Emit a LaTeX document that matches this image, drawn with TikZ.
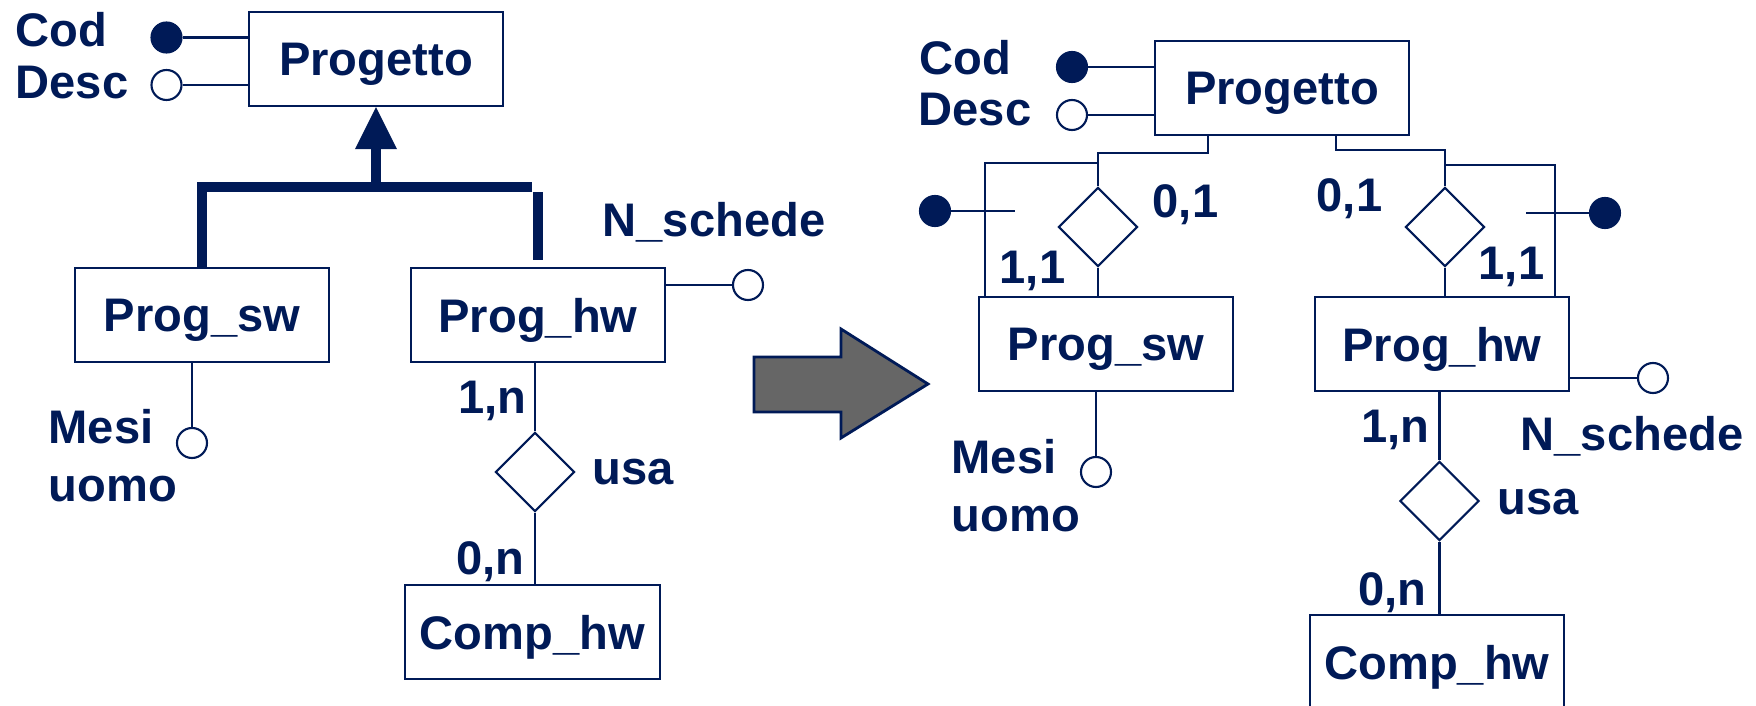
\documentclass[tikz,border=0pt]{standalone}
\usepackage{fontspec}
\setmainfont{Liberation Sans}
\usepackage{xcolor}
\usetikzlibrary{arrows.meta,shapes.geometric,calc}
\definecolor{navy}{HTML}{001A57}
\definecolor{arrowgray}{HTML}{666666}
\newcommand{\erfont}{\fontsize{13.4pt}{16pt}\selectfont\bfseries}

\begin{document}
\begin{tikzpicture}[x=0.01cm, y=-0.01cm,
  entity/.style={rectangle, draw=navy, line width=0.6pt, minimum width=2.54cm,
                 minimum height=0.94cm, inner sep=0pt, text depth=0pt,
                 font=\erfont, text=navy},
  rel/.style={diamond, draw=navy, line width=0.6pt, minimum width=0.79cm,
              minimum height=0.79cm, inner sep=0pt},
  keyattr/.style={circle, draw=navy, fill=navy, line width=0.6pt,
                  minimum size=0.3cm, inner sep=0pt},
  attr/.style={circle, draw=navy, fill=white, line width=0.6pt,
               minimum size=0.3cm, inner sep=0pt},
  lbl/.style={font=\erfont, text=navy, inner sep=0pt},
  ln/.style={draw=navy, line width=0.6pt},
  isa/.style={draw=navy, line width=0.105cm},
  isatip/.style={-{Triangle[length=0.42cm, width=0.42cm, line width=0pt]}}
]
\useasboundingbox (0,0) rectangle (1756,706);

% schema con generalizzazione
\node[entity] (PL) at (376,59) {Progetto};
\node[entity] (SWL) at (202,315) {Prog\_sw};
\node[entity] (HWL) at (538,315) {Prog\_hw};
\node[entity] (CHL) at (532.5,632) {Comp\_hw};
\node[rel] (usaL) at (535,472) {};

\node[keyattr] (codL) at (166.5,37.5) {};
\node[attr] (descL) at (166.5,85) {};
\node[attr] (mesiL) at (192,443) {};
\node[attr] (nschL) at (748,285) {};

\draw[ln] (codL.east) -- (codL.east -| PL.west);
\draw[ln] (descL.east) -- (descL.east -| PL.west);
\draw[ln] (mesiL.north) -- (mesiL.north |- SWL.south);
\draw[ln] (nschL.west) -- (nschL.west -| HWL.east);
\draw[ln] (usaL.north) -- (usaL.north |- HWL.south);
\draw[ln] (usaL.south) -- (usaL.south |- CHL.north);

\coordinate (isaL) at (376,187);
\coordinate (barL) at (532,187);
\draw[isa, isatip] (isaL) -- (PL.south);
\draw[isa] (SWL.north) |- (barL);
\draw[isa] ([yshift=0.07cm]HWL.north) -- ++(0,-68);

\node[lbl, anchor=base west] (tcodL) at (15,46) {Cod};
\node[lbl, anchor=base west] (tdescL) at (15,98) {Desc};
\node[lbl, anchor=base west] (tmesiL) at (48,443) {Mesi};
\node[lbl, anchor=base west] (tuomoL) at (48,501) {uomo};
\node[lbl, anchor=base west] (tnschL) at (602,236) {N\_schede};
\node[lbl, anchor=base east] (c1L) at (527,413) {1,n};
\node[lbl, anchor=base west] (tusaL) at (592,484) {usa};
\node[lbl, anchor=base east] (c2L) at (525,574) {0,n};

% freccia
\draw[fill=arrowgray, draw=navy, line width=0.8pt]
  (754,357) -- (841,357) -- (841,329) -- (928,384) -- (841,438)
  -- (841,412) -- (754,412) -- cycle;

% schema ristrutturato
\node[entity] (PR) at (1282,88) {Progetto};
\node[entity] (SWR) at (1106,344) {Prog\_sw};
\node[entity] (HWR) at (1442,344) {Prog\_hw};
\node[entity] (CHR) at (1437,662) {Comp\_hw};
\node[rel] (dA) at (1098,227) {};
\node[rel] (dB) at (1445,227) {};
\node[rel] (usaR) at (1439.5,501) {};

\node[keyattr] (codR) at (1072,67) {};
\node[attr] (descR) at (1072,115) {};
\node[keyattr] (idA) at (935,211) {};
\node[keyattr] (idB) at (1605,213) {};
\node[attr] (mesiR) at (1096,472) {};
\node[attr] (nschR) at (1653,378) {};

\draw[ln] (codR.east) -- (codR.east -| PR.west);
\draw[ln] (descR.east) -- (descR.east -| PR.west);
\draw[ln] ([xshift=-0.74cm]PR.south) -- ++(0,17) -| (dA.north);
\draw[ln] ([xshift=0.54cm]PR.south) -- ++(0,14) -| (dB.north);
\draw[ln] (dA.south) -- (dA.south |- SWR.north);
\draw[ln] (dB.south) -- (dB.south |- HWR.north);
\coordinate (kA) at (1098,163);
\coordinate (kB) at (1445,165);
\draw[ln] (kA) -| ([xshift=0.07cm]SWR.north west);
\draw[ln] (kB) -| ([xshift=-0.15cm]HWR.north east);
\draw[ln] (idA.east) -- ++(64,0);
\draw[ln] (idB.west) -- ++(-63,0);
\draw[ln] (mesiR.north) -- (mesiR.north |- SWR.south);
\draw[ln] (nschR.west) -- (nschR.west -| HWR.east);
\draw[ln] (usaR.north) -- (usaR.north |- HWR.south);
\draw[ln] (usaR.south) -- (usaR.south |- CHR.north);

\node[lbl, anchor=base west] (tcodR) at (919,74) {Cod};
\node[lbl, anchor=base west] (tdescR) at (918,126) {Desc};
\node[lbl, anchor=base west] (c3R) at (1152,217) {0,1};
\node[lbl, anchor=base east] (c4R) at (1066,283) {1,1};
\node[lbl, anchor=base east] (c5R) at (1383,212) {0,1};
\node[lbl, anchor=base east] (c6R) at (1545,279) {1,1};
\node[lbl, anchor=base west] (tmesiR) at (951,473) {Mesi};
\node[lbl, anchor=base west] (tuomoR) at (951,531) {uomo};
\node[lbl, anchor=base west] (tnschR) at (1520,450) {N\_schede};
\node[lbl, anchor=base east] (c1R) at (1430,442) {1,n};
\node[lbl, anchor=base west] (tusaR) at (1497,514) {usa};
\node[lbl, anchor=base east] (c2R) at (1427,605) {0,n};
\end{tikzpicture}
\end{document}
